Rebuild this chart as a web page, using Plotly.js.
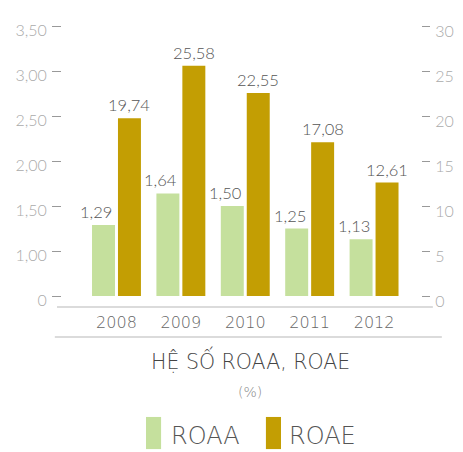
<!DOCTYPE html>
<html>
<head>
<meta charset="utf-8">
<script src="https://cdn.plot.ly/plotly-3.0.1.min.js"></script>
<style>html,body{margin:0;padding:0;background:#fff;}#chart{width:463px;height:452px;}</style>
</head>
<body>
<div id="chart"></div>
<script>
const years = ['2008', '2009', '2010', '2011', '2012'];
const roaaName = 'ROAA';
const roaeName = 'ROAE';
const roaa = [1.29, 1.64, 1.50, 1.25, 1.13];
const roae = [19.74, 25.58, 22.55, 17.08, 12.61];
const leftTickVals = [0.5, 1.0, 1.5, 2.0, 2.5, 3.0, 3.5];
const leftTickText = ['0', '1,00', '1,50', '2,00', '2,50', '3,00', '3,50'];
const rightTickVals = [0, 5, 10, 15, 20, 25, 30];
const chartTitle = 'HỆ SỐ ROAA, ROAE';
const chartUnit = '(%)';

const green = '#c5e09d';
const gold = '#c39e03';
const numFont = {family: 'Lato, sans-serif', weight: 300};
const fmt = v => v.toFixed(2).replace('.', ',');

const traces = [
  {type: 'bar', x: years, y: roaa, name: roaaName, yaxis: 'y',
   marker: {color: green}, offsetgroup: 'a'},
  {type: 'bar', x: years, y: roae, name: roaeName, yaxis: 'y2',
   marker: {color: gold}, offsetgroup: 'b'}
];

// value labels placed at each category (index on the category axis) and bar value
const valueLabels = [];
years.forEach((yr, i) => {
  valueLabels.push({text: fmt(roaa[i]), x: i, y: roaa[i], xref: 'x', yref: 'y',
    xanchor: 'right', yanchor: 'bottom', xshift: -2, yshift: 1, showarrow: false,
    font: {...numFont, size: 16.5, color: '#555'}});
  valueLabels.push({text: fmt(roae[i]), x: i, y: roae[i], xref: 'x', yref: 'y2',
    xanchor: 'center', yanchor: 'bottom', xshift: 13, yshift: 1, showarrow: false,
    font: {...numFont, size: 16.5, color: '#555'}});
});

const layout = {
  width: 463, height: 452,
  margin: {l: 62, r: 42, t: 26, b: 156},
  paper_bgcolor: '#fff', plot_bgcolor: '#fff',
  separators: ',.',
  showlegend: false,
  barmode: 'group', bargap: 0.194, bargroupgap: 0.115,
  xaxis: {type: 'category', range: [-0.846, 4.729], showgrid: false, zeroline: false,
    showline: false, ticks: '', ticklabelstandoff: 15,
    tickfont: {family: 'DejaVu Sans, sans-serif', weight: 200, size: 16, color: '#666'}},
  yaxis: {range: [0.5, 3.5], tickvals: leftTickVals, ticktext: leftTickText,
    showgrid: false, zeroline: false, showline: false,
    ticks: 'outside', ticklen: 9, tickwidth: 1, tickcolor: '#999',
    ticklabelshift: 4, ticklabelstandoff: 2,
    tickfont: {...numFont, size: 16, color: '#aaa'}},
  yaxis2: {range: [0, 30], tickvals: rightTickVals, overlaying: 'y', side: 'right',
    showgrid: false, zeroline: false, showline: false,
    ticks: 'outside', ticklen: 8, tickwidth: 1, tickcolor: '#999',
    ticklabelshift: 5, ticklabelstandoff: 2,
    tickfont: {...numFont, size: 16, color: '#aaa'}},
  shapes: [
    {type: 'line', xref: 'paper', yref: 'paper', x0: -0.014, x1: 1.033, y0: -0.041, y1: -0.041,
     line: {color: '#cfcfcf', width: 1.5}},
    {type: 'line', xref: 'paper', yref: 'paper', x0: -0.02, x1: 1.058, y0: -0.152, y1: -0.152,
     line: {color: '#cfcfcf', width: 1.5}},
    {type: 'rect', xref: 'paper', yref: 'paper', x0: 0.234, x1: 0.276, y0: -0.567, y1: -0.448,
     line: {width: 0}, fillcolor: green},
    {type: 'rect', xref: 'paper', yref: 'paper', x0: 0.568, x1: 0.610, y0: -0.567, y1: -0.448,
     line: {width: 0}, fillcolor: gold}
  ],
  annotations: valueLabels.concat([
    {text: chartTitle, xref: 'paper', yref: 'paper', x: 0.524, y: -0.237, xanchor: 'center', yanchor: 'middle',
     showarrow: false, font: {family: 'DejaVu Sans, sans-serif', weight: 200, size: 20.5, color: '#444'}},
    {text: chartUnit, xref: 'paper', yref: 'paper', x: 0.524, y: -0.356, xanchor: 'center', yanchor: 'middle',
     showarrow: false, font: {family: 'DejaVu Sans, sans-serif', weight: 200, size: 14, color: '#888'}},
    {text: roaaName, xref: 'paper', yref: 'paper', x: 0.298, y: -0.52, xanchor: 'left', yanchor: 'middle',
     showarrow: false, font: {family: 'DejaVu Sans, sans-serif', weight: 200, size: 24, color: '#555'}},
    {text: roaeName, xref: 'paper', yref: 'paper', x: 0.627, y: -0.52, xanchor: 'left', yanchor: 'middle',
     showarrow: false, font: {family: 'DejaVu Sans, sans-serif', weight: 200, size: 24, color: '#555'}}
  ])
};

Plotly.newPlot('chart', traces, layout, {displayModeBar: false, staticPlot: true});
</script>
</body>
</html>
